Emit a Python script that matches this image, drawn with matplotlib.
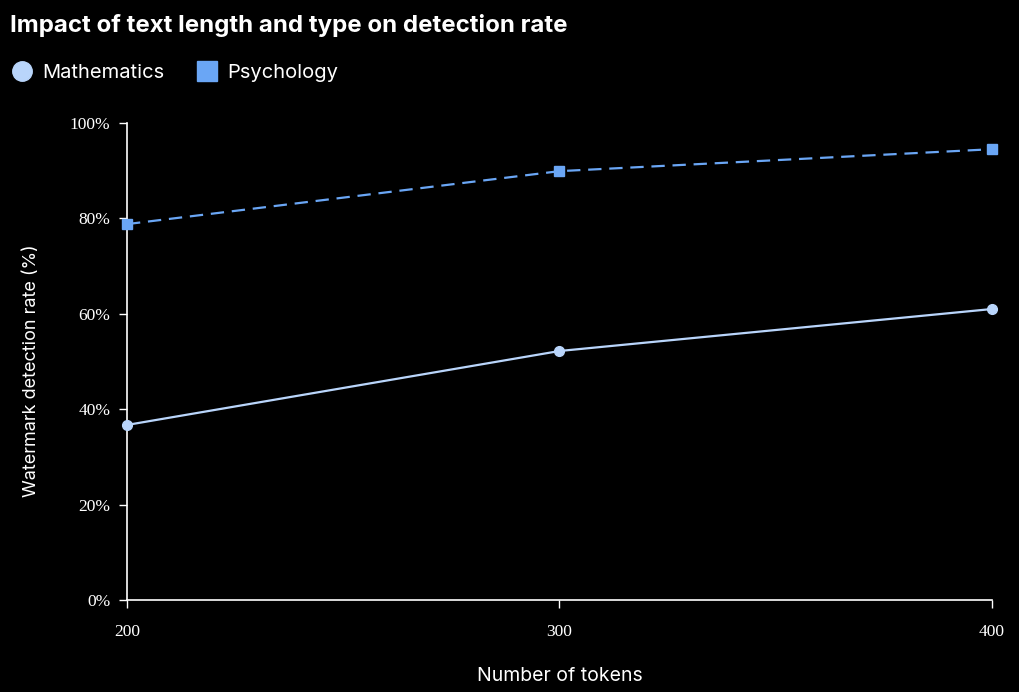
import matplotlib
matplotlib.use("Agg")
import matplotlib.pyplot as plt
from matplotlib.lines import Line2D

tokens = [200, 300, 400]
math_rate = [36.7, 52.2, 61.0]
psych_rate = [78.8, 89.9, 94.5]
yticks = [0, 20, 40, 60, 80, 100]

math_color = "#b9d5fb"
psych_color = "#6aa6f5"

fig = plt.figure(figsize=(10.2, 6.92), dpi=100, facecolor="black")
ax = fig.add_axes([0.1245, 0.1329, 0.848, 0.6894], facecolor="black")

ax.plot(tokens, math_rate, color=math_color, lw=1.6, marker="o", ms=7,
        clip_on=False, zorder=3, label="Mathematics")
ax.plot(tokens, psych_rate, color=psych_color, lw=1.6, ls=(0, (6, 3.5)),
        marker="s", ms=7, clip_on=False, zorder=3, label="Psychology")

ax.set_xlim(200, 400)
ax.set_ylim(0, 100)
ax.set_xticks(tokens)
ax.set_yticks(yticks)
ax.set_yticklabels([f"{v}%" for v in yticks])

for s in ["top", "right"]:
    ax.spines[s].set_visible(False)
for s in ["left", "bottom"]:
    ax.spines[s].set_color("white")
    ax.spines[s].set_linewidth(1.2)
ax.tick_params(colors="white", length=6, width=1.0, labelsize=12.5)
ax.tick_params(axis="x", pad=11)
ax.tick_params(axis="y", pad=6)
for lbl in ax.get_xticklabels() + ax.get_yticklabels():
    lbl.set_family("Liberation Serif")
    lbl.set_color("white")

ax.set_xlabel("Number of tokens", color="white", fontsize=14, family="Inter")
ax.set_ylabel("Watermark detection rate (%)", color="white", fontsize=13, family="Inter")
ax.xaxis.set_label_coords(0.5, -0.14)
ax.yaxis.set_label_coords(-0.1, 0.48)

fig.text(0.01, 0.963, "Impact of text length and type on detection rate", color="white",
         fontsize=17.3, fontweight="bold", family="Inter", va="center", ha="left")

handles = [
    Line2D([], [], ls="none", marker="o", ms=14, color=math_color),
    Line2D([], [], ls="none", marker="s", ms=14, color=psych_color),
]
leg = fig.legend(handles, ["Mathematics", "Psychology"], loc="center left",
                 bbox_to_anchor=(-0.006, 0.895), ncol=2, frameon=False,
                 handlelength=1.0, handletextpad=0.5, columnspacing=1.6,
                 prop={"family": "Inter", "size": 14.5})
for t in leg.get_texts():
    t.set_color("white")

fig.savefig("out.png", dpi=100, facecolor="black")
